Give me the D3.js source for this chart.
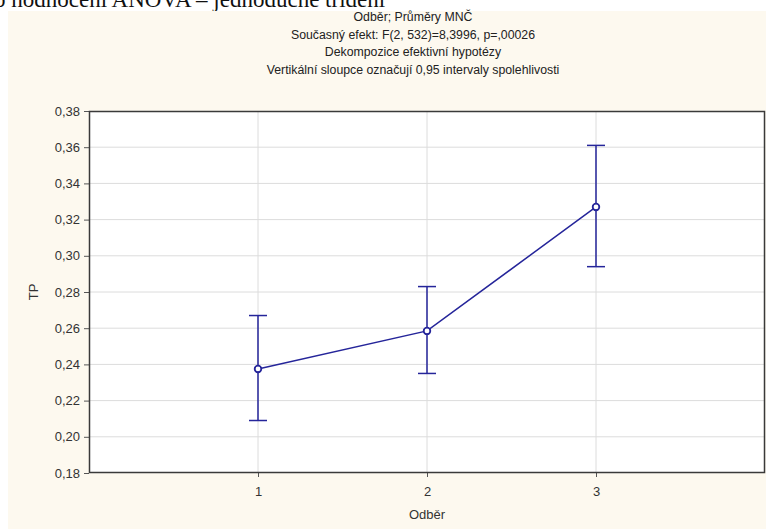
<!DOCTYPE html>
<html>
<head>
<meta charset="utf-8">
<script src="https://cdn.jsdelivr.net/npm/d3@7"></script>
<style>
  html, body { margin: 0; padding: 0; background: #ffffff; }
  svg { display: block; }
</style>
</head>
<body>
<svg id="chart" width="766" height="529"></svg>
<script>
// Sampling rounds (Odběr) and least-squares means of TP with 0.95 confidence limits
const categories = [1, 2, 3];
const means = [0.2375, 0.2585, 0.3270];
const upper = [0.2670, 0.2830, 0.3610];
const lower = [0.2090, 0.2350, 0.2940];
const yTicks = [0.18, 0.20, 0.22, 0.24, 0.26, 0.28, 0.30, 0.32, 0.34, 0.36, 0.38];
const titleLines = [
  "Odběr; Průměry MNČ",
  "Současný efekt: F(2, 532)=8,3996, p=,00026",
  "Dekompozice efektivní hypotézy",
  "Vertikální sloupce označují 0,95 intervaly spolehlivosti"
];

const svg = d3.select("#chart");
const W = 766, H = 529;
const sans = "'Liberation Sans', Arial, sans-serif";
const navy = "#25259a";

// Heading of the surrounding document, cut off at the top
svg.append("text")
  .attr("x", -6).attr("y", 7)
  .attr("font-family", "'Liberation Serif', 'Times New Roman', serif")
  .attr("font-size", 23)
  .attr("fill", "#111")
  .text("o hodnocení ANOVA – jednoduché třídění");

// Graph panel
svg.append("rect")
  .attr("x", 8).attr("y", 11)
  .attr("width", W - 8).attr("height", H - 11)
  .attr("fill", "#fdf9ef");

const plot = { left: 89, right: 765, top: 111, bottom: 473 };

const x = d3.scaleLinear().domain([0, 4]).range([plot.left, plot.right]);
const y = d3.scaleLinear().domain([0.18, 0.38]).range([plot.bottom, plot.top]);

// Plot background
svg.append("rect")
  .attr("x", plot.left).attr("y", plot.top)
  .attr("width", plot.right - plot.left).attr("height", plot.bottom - plot.top)
  .attr("fill", "#ffffff");

// Grid lines
svg.append("g").selectAll("line.hg")
  .data(yTicks.slice(1, -1))
  .join("line")
  .attr("x1", plot.left).attr("x2", plot.right)
  .attr("y1", d => y(d)).attr("y2", d => y(d))
  .attr("stroke", "#dcdcdc").attr("stroke-width", 1);

svg.append("g").selectAll("line.vg")
  .data(categories)
  .join("line")
  .attr("x1", d => x(d)).attr("x2", d => x(d))
  .attr("y1", plot.top).attr("y2", plot.bottom)
  .attr("stroke", "#dcdcdc").attr("stroke-width", 1);

// Axes
const fmt = d => d.toFixed(2).replace(".", ",");
const yAxis = svg.append("g")
  .attr("transform", `translate(${plot.left},0)`)
  .call(d3.axisLeft(y).tickValues(yTicks).tickFormat(fmt).tickSize(5).tickPadding(4));
yAxis.select(".domain").remove();
yAxis.selectAll(".tick line").attr("stroke", "#555");
yAxis.selectAll(".tick text")
  .attr("font-family", sans).attr("font-size", 13).attr("fill", "#333");

const xAxis = svg.append("g")
  .attr("transform", `translate(0,${plot.bottom})`)
  .call(d3.axisBottom(x).tickValues(categories).tickFormat(d3.format("d")).tickSize(4).tickPadding(10));
xAxis.select(".domain").remove();
xAxis.selectAll(".tick line").attr("stroke", "#555");
xAxis.selectAll(".tick text")
  .attr("font-family", sans).attr("font-size", 13).attr("fill", "#333");

// Frame
svg.append("rect")
  .attr("x", plot.left + 0.5).attr("y", plot.top + 0.5)
  .attr("width", plot.right - plot.left - 1).attr("height", plot.bottom - plot.top - 1)
  .attr("fill", "none").attr("stroke", "#3a3a3a").attr("stroke-width", 1.5);

// Titles
svg.append("g").selectAll("text")
  .data(titleLines)
  .join("text")
  .attr("x", 413)
  .attr("y", (d, i) => 21 + i * 17.5)
  .attr("text-anchor", "middle")
  .attr("font-family", sans).attr("font-size", 12.3).attr("fill", "#222")
  .text(d => d);

// Axis titles
svg.append("text")
  .attr("transform", `translate(38,${(plot.top + plot.bottom) / 2}) rotate(-90)`)
  .attr("text-anchor", "middle")
  .attr("font-family", sans).attr("font-size", 13).attr("fill", "#333")
  .text("TP");

svg.append("text")
  .attr("x", (plot.left + plot.right) / 2).attr("y", 519)
  .attr("text-anchor", "middle")
  .attr("font-family", sans).attr("font-size", 13).attr("fill", "#333")
  .text("Odběr");

// Error bars
const data = categories.map((c, i) => ({ c, m: means[i], hi: upper[i], lo: lower[i] }));
const eb = svg.append("g").attr("stroke", navy).attr("stroke-width", 1.5);
eb.selectAll("line.v").data(data).join("line")
  .attr("x1", d => x(d.c)).attr("x2", d => x(d.c))
  .attr("y1", d => y(d.hi)).attr("y2", d => y(d.lo));
eb.selectAll("line.t").data(data).join("line")
  .attr("x1", d => x(d.c) - 9).attr("x2", d => x(d.c) + 9)
  .attr("y1", d => y(d.hi)).attr("y2", d => y(d.hi));
eb.selectAll("line.b").data(data).join("line")
  .attr("x1", d => x(d.c) - 9).attr("x2", d => x(d.c) + 9)
  .attr("y1", d => y(d.lo)).attr("y2", d => y(d.lo));

// Mean line and markers
svg.append("path")
  .datum(data)
  .attr("fill", "none").attr("stroke", navy).attr("stroke-width", 1.5)
  .attr("d", d3.line().x(d => x(d.c)).y(d => y(d.m)));

svg.append("g").selectAll("circle").data(data).join("circle")
  .attr("cx", d => x(d.c)).attr("cy", d => y(d.m)).attr("r", 3.3)
  .attr("fill", "#ffffff").attr("stroke", navy).attr("stroke-width", 1.8);
</script>
</body>
</html>
